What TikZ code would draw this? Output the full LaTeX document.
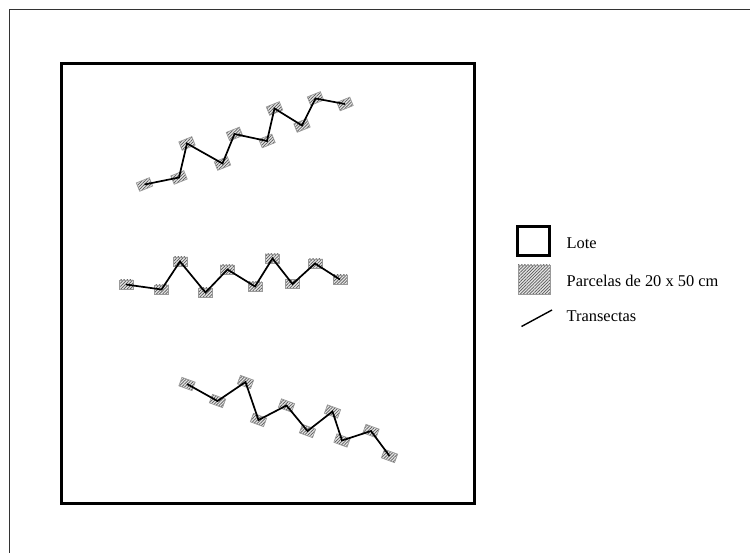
\documentclass[tikz,border=0pt]{standalone}
\usepackage{fontspec}
\setmainfont{Liberation Serif}
\usetikzlibrary{patterns.meta}
\begin{document}
\begin{tikzpicture}[x=1pt,y=-1pt,
  parcela/.style={draw=gray!80, line width=0.7pt, minimum width=14pt, minimum height=9pt, inner sep=0pt,
    preaction={fill=gray!20}, pattern={Lines[angle=45,distance=2.2pt,line width=0.7pt]}, pattern color=black!65},
  legparcela/.style={parcela, minimum width=32pt, minimum height=29pt},
  transecta/.style={line width=1.7pt, black},
  lote/.style={line width=3pt, black},
  frame/.style={line width=1.1pt, black!80},
  legtext/.style={inner sep=0pt, anchor=base west, font=\fontsize{16.4}{19}\selectfont}]
\useasboundingbox (0,0) rectangle (750,553);
% outer frame (partly visible)
\coordinate (f1) at (9.5,553);
\coordinate (f2) at (9.5,9.5);
\coordinate (f3) at (750,9.5);
\draw[frame] (f1) -- (f2) -- (f3);
% lote
\node[lote, draw, minimum width=413pt, minimum height=439pt, inner sep=0pt] (lote) at (267.5,283.5) {};
% top transect
\foreach \i/\x/\y in {1/144.5/184.5, 2/179/177.5, 3/187/143.5, 4/222.5/163.5, 5/234.5/134, 6/267/141, 7/274.5/108.5, 8/302/125.5, 9/315.5/98.5, 10/345/104}
  \node[parcela, rotate=22] (a\i) at (\x,\y) {};
\draw[transecta] (a1.center) -- (a2.center) -- (a3.center) -- (a4.center) -- (a5.center) -- (a6.center) -- (a7.center) -- (a8.center) -- (a9.center) -- (a10.center);
% middle transect
\foreach \i/\x/\y in {1/126/284.5, 2/161.5/289.5, 3/180/261.5, 4/205.5/292.5, 5/227.5/269.5, 6/255/286.5, 7/272.5/258.5, 8/292.5/284, 9/315/263.5, 10/340/279.5}
  \node[parcela] (b\i) at (\x,\y) {};
\draw[transecta] (b1.center) -- (b2.center) -- (b3.center) -- (b4.center) -- (b5.center) -- (b6.center) -- (b7.center) -- (b8.center) -- (b9.center) -- (b10.center);
% bottom transect
\foreach \i/\x/\y in {1/187/384, 2/217.5/401, 3/245.5/382, 4/258.5/420, 5/286.5/405.5, 6/307.5/431, 7/332.5/411.5, 8/342/440.5, 9/371/431, 10/389.5/456}
  \node[parcela, rotate=-20] (c\i) at (\x,\y) {};
\draw[transecta] (c1.center) -- (c2.center) -- (c3.center) -- (c4.center) -- (c5.center) -- (c6.center) -- (c7.center) -- (c8.center) -- (c9.center) -- (c10.center);
% legend
\node[lote, draw, minimum width=32pt, minimum height=29pt, inner sep=0pt] (leglote) at (533.5,241) {};
\node[legparcela] (legparc) at (534,279.5) {};
\coordinate (lt1) at (521.5,326.5);
\coordinate (lt2) at (552,310);
\draw[transecta, line width=1.4pt] (lt1) -- (lt2);
\node[legtext] (t1) at (566.5,248.5) {Lote};
\node[legtext] (t2) at (566.5,286.5) {Parcelas de 20 x 50 cm};
\node[legtext] (t3) at (566.5,321.5) {Transectas};
\end{tikzpicture}
\end{document}
